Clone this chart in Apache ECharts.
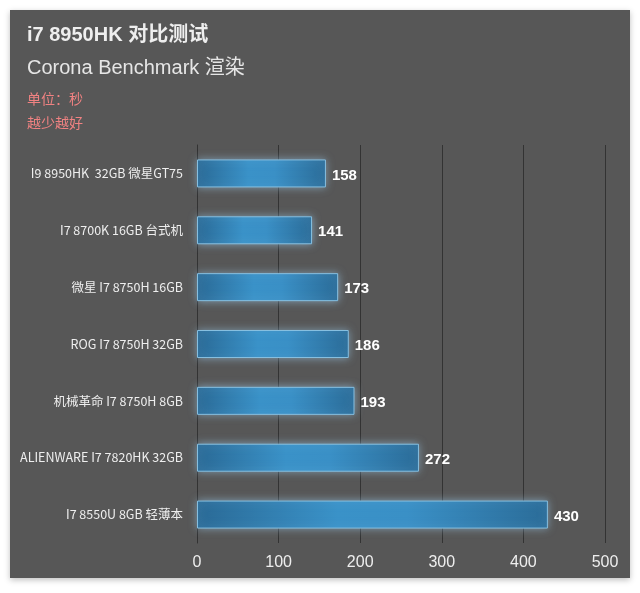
<!DOCTYPE html>
<html>
<head>
<meta charset="utf-8">
<script src="https://cdn.jsdelivr.net/npm/echarts@6/dist/echarts.min.js"></script>
<style>
  html, body { margin: 0; padding: 0; background: #fff; }
  #main { width: 640px; height: 593px; }
</style>
</head>
<body>
<div id="main"></div>
<script>
var categories = [
    'I9 8950HK  32GB 微星GT75',
    'I7 8700K 16GB 台式机',
    '微星 I7 8750H 16GB',
    'ROG I7 8750H 32GB',
    '机械革命 I7 8750H 8GB',
    'ALIENWARE I7 7820HK 32GB',
    'I7 8550U 8GB 轻薄本'
];
var seconds = [158, 141, 173, 186, 193, 272, 430];
var tickLabels = ['0', '100', '200', '300', '400', '500'];

var fontStack = '"Liberation Sans", Arial, "Noto Sans CJK SC", sans-serif';
var chart = echarts.init(document.getElementById('main'));

var option = {
    backgroundColor: '#ffffff',
    textStyle: { fontFamily: fontStack },
    graphic: [
        {
            type: 'rect',
            z: -10,
            shape: { x: 10, y: 10, width: 620, height: 568 },
            style: {
                fill: '#575757',
                shadowBlur: 6,
                shadowColor: 'rgba(0,0,0,0.25)',
                shadowOffsetY: 2
            }
        },
        {
            type: 'text', left: 27, top: 25,
            style: { text: 'i7 8950HK 对比测试', fill: '#eeeeee', font: 'bold 20px ' + fontStack }
        },
        {
            type: 'text', left: 27, top: 58,
            style: { text: 'Corona Benchmark 渲染', fill: '#e6e6e6', font: '20px ' + fontStack }
        },
        {
            type: 'text', left: 27, top: 92,
            style: { text: '单位：秒', fill: '#f08282', font: '14px "Noto Sans CJK SC", sans-serif' }
        },
        {
            type: 'text', left: 27, top: 116,
            style: { text: '越少越好', fill: '#f08282', font: '14px "Noto Sans CJK SC", sans-serif' }
        }
    ],
    grid: { left: 197, right: 35, top: 145, bottom: 50, containLabel: false },
    xAxis: {
        type: 'value',
        min: 0,
        max: 500,
        interval: 100,
        axisLine: { show: false },
        axisTick: { show: false },
        splitLine: { lineStyle: { color: '#333333', width: 1 } },
        axisLabel: {
            color: '#eeeeee',
            fontSize: 16,
            margin: 12,
            formatter: function (v) { return tickLabels[v / 100]; }
        }
    },
    yAxis: {
        type: 'category',
        inverse: true,
        data: categories,
        axisLine: { show: true, lineStyle: { color: '#333333' } },
        axisTick: { show: false },
        axisLabel: {
            color: '#eeeeee',
            fontSize: 12.5,
            margin: 14,
            fontFamily: '"Noto Sans CJK SC", sans-serif'
        }
    },
    series: [{
        type: 'bar',
        data: seconds,
        barWidth: 28,
        itemStyle: {
            color: new echarts.graphic.LinearGradient(0, 0, 1, 0, [
                { offset: 0, color: '#2a6a96' },
                { offset: 0.4, color: '#3a92c8' },
                { offset: 0.6, color: '#3a90c6' },
                { offset: 1, color: '#2b6c98' }
            ]),
            borderColor: '#86bfe0',
            borderWidth: 1,
            shadowBlur: 8,
            shadowColor: 'rgba(160,210,245,0.55)'
        },
        label: {
            show: true,
            position: 'right',
            distance: 6,
            offset: [0, 2],
            color: '#ffffff',
            fontSize: 15,
            fontWeight: 'bold',
            fontFamily: fontStack
        }
    }]
};

chart.setOption(option);
</script>
</body>
</html>
